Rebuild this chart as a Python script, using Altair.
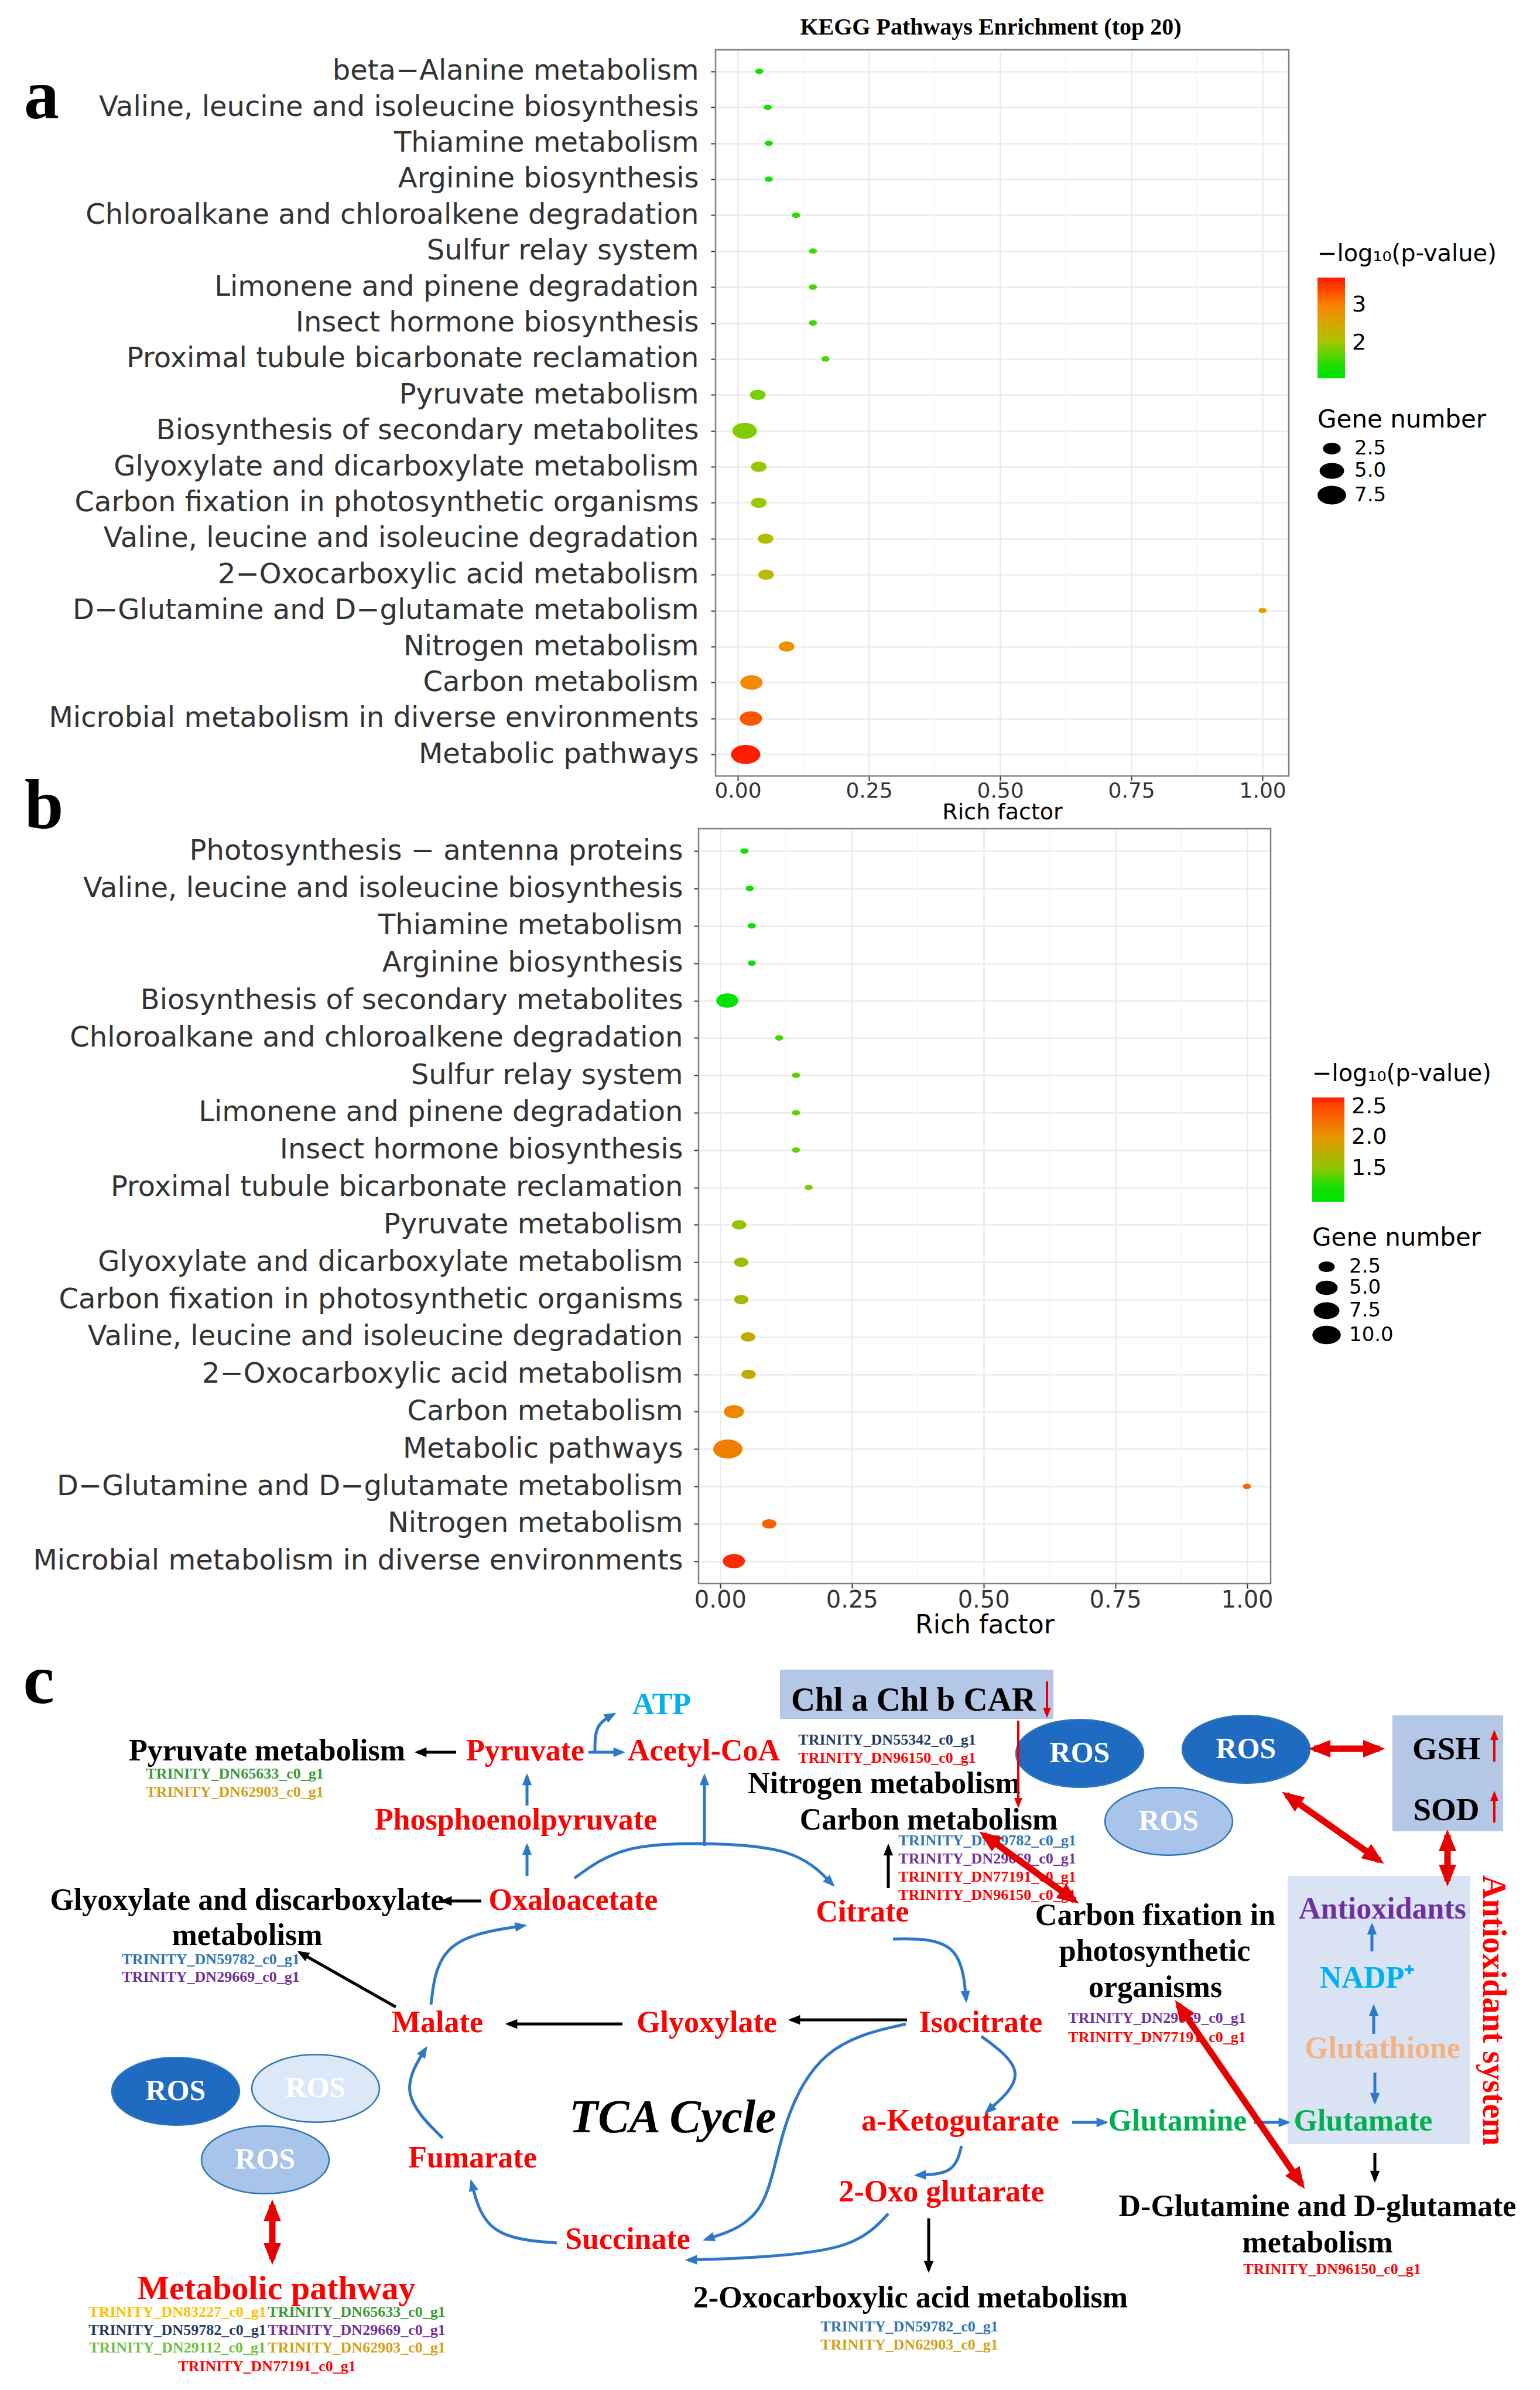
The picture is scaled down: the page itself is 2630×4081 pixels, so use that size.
import math
import pandas as pd
import altair as alt

# ======================= Panel a (KEGG enrichment, top 20) =======================
a_pathways = [
    "beta\u2212Alanine metabolism",
    "Valine, leucine and isoleucine biosynthesis",
    "Thiamine metabolism",
    "Arginine biosynthesis",
    "Chloroalkane and chloroalkene degradation",
    "Sulfur relay system",
    "Limonene and pinene degradation",
    "Insect hormone biosynthesis",
    "Proximal tubule bicarbonate reclamation",
    "Pyruvate metabolism",
    "Biosynthesis of secondary metabolites",
    "Glyoxylate and dicarboxylate metabolism",
    "Carbon fixation in photosynthetic organisms",
    "Valine, leucine and isoleucine degradation",
    "2\u2212Oxocarboxylic acid metabolism",
    "D\u2212Glutamine and D\u2212glutamate metabolism",
    "Nitrogen metabolism",
    "Carbon metabolism",
    "Microbial metabolism in diverse environments",
    "Metabolic pathways",
]
a_rich = [0.041, 0.057, 0.059, 0.059, 0.111, 0.143, 0.143, 0.143, 0.167, 0.038,
          0.013, 0.040, 0.040, 0.053, 0.054, 1.000, 0.093, 0.026, 0.025, 0.015]
a_genes = [1, 1, 1, 1, 1, 1, 1, 1, 1, 2, 5, 2, 2, 2, 2, 1, 2, 4, 4, 8]
a_logp = [1.30, 1.33, 1.33, 1.33, 1.50, 1.58, 1.58, 1.58, 1.66, 1.82,
          1.86, 1.95, 1.97, 2.15, 2.20, 2.55, 2.80, 2.90, 3.30, 3.70]

# ======================= Panel b =======================
b_pathways = [
    "Photosynthesis \u2212 antenna proteins",
    "Valine, leucine and isoleucine biosynthesis",
    "Thiamine metabolism",
    "Arginine biosynthesis",
    "Biosynthesis of secondary metabolites",
    "Chloroalkane and chloroalkene degradation",
    "Sulfur relay system",
    "Limonene and pinene degradation",
    "Insect hormone biosynthesis",
    "Proximal tubule bicarbonate reclamation",
    "Pyruvate metabolism",
    "Glyoxylate and dicarboxylate metabolism",
    "Carbon fixation in photosynthetic organisms",
    "Valine, leucine and isoleucine degradation",
    "2\u2212Oxocarboxylic acid metabolism",
    "Carbon metabolism",
    "Metabolic pathways",
    "D\u2212Glutamine and D\u2212glutamate metabolism",
    "Nitrogen metabolism",
    "Microbial metabolism in diverse environments",
]
b_rich = [0.046, 0.056, 0.060, 0.060, 0.0135, 0.112, 0.144, 0.144, 0.144, 0.168,
          0.036, 0.040, 0.040, 0.053, 0.054, 0.026, 0.0145, 1.000, 0.093, 0.026]
b_genes = [1, 1, 1, 1, 5, 1, 1, 1, 1, 1, 2, 2, 2, 2, 2, 4, 11, 1, 2, 5]
b_logp = [1.10, 1.12, 1.12, 1.12, 1.00, 1.30, 1.40, 1.40, 1.40, 1.47,
          1.55, 1.62, 1.63, 1.78, 1.80, 2.10, 2.15, 2.30, 2.35, 2.60]

x_major = [0.0, 0.25, 0.5, 0.75, 1.0]
x_minor = [0.125, 0.375, 0.625, 0.875]

a_color_domain = [1.08, 1.45, 2.0, 2.5, 3.0, 3.72]
a_color_range = ["#00E400", "#1EDF00", "#A2C600", "#D6A800", "#FA8200", "#FF1A00"]
b_color_domain = [0.96, 1.2, 1.5, 2.0, 2.5, 2.65]
b_color_range = ["#00E400", "#14E000", "#8CC800", "#E89600", "#FF4A00", "#FF1A00"]


def ellipse_path(e):
    k = 0.5523
    return (f"M-1,0 C-1,{-k*e:.4f} {-k:.4f},{-e:.4f} 0,{-e:.4f} "
            f"C{k:.4f},{-e:.4f} 1,{-k*e:.4f} 1,0 "
            f"C1,{k*e:.4f} {k:.4f},{e:.4f} 0,{e:.4f} "
            f"C{-k:.4f},{e:.4f} -1,{k*e:.4f} -1,0 Z")


DOT = ellipse_path(0.65)
ROS_SHAPE = ellipse_path(0.53)
ARROW = "M0,-0.5 L0.8,1.5 L-0.8,1.5 Z"
SANS = "DejaVu Sans"
SERIF = "Liberation Serif"


def dot_panel(names, rich, genes, logp, xdom, cdom, crange, cvals, cfmt,
              grad_len, grad_thick, sdom, svals, width, height, off, leg_x, leg_cy, leg_sy,
              ylab_size, ylab_pad, xlab_size, xlab_pad, xt_size, xt_y):
    df = pd.DataFrame({"pathway": names, "rich": rich, "genes": genes, "logp": logp})
    xscale = alt.Scale(domain=xdom, range=[off, off + width], nice=False, zero=False)
    xaxis = alt.Axis(values=x_major, format=".2f", title="Rich factor",
                     titleFont=SANS, titleFontSize=xt_size, titleFontWeight="normal",
                     titleColor="black", titleY=xt_y, titleBaseline="middle",
                     labelFont=SANS, labelFontSize=xlab_size, labelColor="#333333",
                     labelPadding=xlab_pad, labelBaseline="middle",
                     tickColor="#333333", tickSize=8, tickWidth=2, domain=False,
                     grid=True, gridColor="#EBEBEB", gridWidth=2.5)
    grid = alt.Chart(pd.DataFrame({"rich": x_minor})).mark_rule(
        color="#F4F4F4", strokeWidth=1.5).encode(x=alt.X("rich:Q", scale=xscale, axis=xaxis))
    dots = alt.Chart(df).mark_point(shape=DOT, filled=True, opacity=1, strokeWidth=0).encode(
        x=alt.X("rich:Q", scale=xscale, axis=xaxis),
        y=alt.Y("pathway:N", sort=names, scale=alt.Scale(padding=0.6),
                axis=alt.Axis(title=None, labelFont=SANS, labelFontSize=ylab_size,
                              labelColor="#333333", labelLimit=3000, labelPadding=ylab_pad,
                              tickColor="#333333", tickSize=8, tickWidth=2, domain=False,
                              offset=-off,
                              grid=True, gridColor="#EBEBEB", gridWidth=2.5)),
        color=alt.Color("logp:Q",
                        scale=alt.Scale(domain=cdom, range=crange, interpolate="rgb"),
                        legend=alt.Legend(title="\u2212log\u2081\u2080(p-value)", orient="none",
                                          legendX=leg_x, legendY=leg_cy, direction="vertical",
                                          gradientLength=grad_len, gradientThickness=grad_thick,
                                          gradientStrokeWidth=0, values=cvals, format=cfmt,
                                          labelFont=SANS, labelFontSize=38, labelColor="black",
                                          labelOffset=12, titleFont=SANS, titleFontSize=40,
                                          titleFontWeight="normal", titleColor="black",
                                          titlePadding=20, titleLimit=2000, padding=0)),
        size=alt.Size("genes:Q",
                      scale=alt.Scale(type="sqrt", domain=sdom, range=[196, 2500]),
                      legend=alt.Legend(title="Gene number", orient="none",
                                        legendX=leg_x, legendY=leg_sy, values=svals,
                                        format=".1f", symbolType=DOT, symbolFillColor="black",
                                        symbolStrokeColor="black", symbolStrokeWidth=0,
                                        symbolOpacity=1, labelFont=SANS, labelFontSize=34,
                                        labelColor="black", labelOffset=14, rowPadding=0,
                                        titleFont=SANS, titleFontSize=42,
                                        titleFontWeight="normal", titleColor="black",
                                        titlePadding=10, titleLimit=2000, padding=0)),
    )
    frame = alt.Chart(pd.DataFrame({"rich": [xdom[0]], "rich2": [xdom[1]]})).mark_rect(
        fillOpacity=0, stroke="#808080", strokeWidth=2.5).encode(
        x=alt.X("rich:Q", scale=xscale, axis=xaxis), x2=alt.X2("rich2:Q"))
    return alt.layer(grid, dots, frame).properties(
        width=width + off, height=height,
        view=alt.ViewBackground(strokeOpacity=0, strokeWidth=0))


chart_a = dot_panel(a_pathways, a_rich, a_genes, a_logp, [-0.0424, 1.050],
                    a_color_domain, a_color_range, [2, 3], "d", 172, 47,
                    [1, 8], [2.5, 5.0, 7.5], 979, 1240, 29, 1057, 329, 612,
                    48, 21, 36, 17, 38, 62)
chart_b = dot_panel(b_pathways, b_rich, b_genes, b_logp, [-0.041, 1.045],
                    b_color_domain, b_color_range, [1.5, 2.0, 2.5], ".1f", 178, 55,
                    [1, 11], [2.5, 5.0, 7.5, 10.0], 977, 1289, 0, 1048, 399, 679,
                    48, 19, 40, 20, 44, 71)

# ======================= Panel c (pathway diagram) =======================
K, RED, CYAN, PURPLE, PEACH, GREEN = "#000000", "#FF0000", "#00B0F0", "#7030A0", "#F4B183", "#00B050"
BLUE_T, NAVY, G1, GOLD, YELLOW, LGREEN = "#2E75B6", "#1F3864", "#3A9A3A", "#D4A017", "#FFC000", "#70C040"
BLUE = "#2E78C8"
WHITE = "#FFFFFF"

# label, X, Y, colour, font size
panel_texts = [
    ("a", 71, 166, K, 120), ("b", 75, 1378, K, 120), ("c", 66, 2872, K, 120),
    ("KEGG Pathways Enrichment (top 20)", 1692, 47, K, 40),
]
pathway_texts = [
    ("Pyruvate metabolism", 456, 2990), ("Glyoxylate and discarboxylate", 422, 3245),
    ("metabolism", 422, 3305), ("Nitrogen metabolism", 1510, 3046),
    ("Carbon metabolism", 1586, 3108), ("2-Oxocarboxylic acid metabolism", 1555, 3924),
    ("Carbon fixation in", 1973, 3271), ("photosynthetic", 1972, 3332),
    ("organisms", 1973, 3394), ("D-Glutamine and D-glutamate", 2250, 3768),
    ("metabolism", 2250, 3830),
]
metabolite_texts = [
    ("Pyruvate", 897, 2990, RED), ("Acetyl-CoA", 1202, 2990, RED),
    ("Phosphoenolpyruvate", 881, 3108, RED), ("Oxaloacetate", 979, 3245, RED),
    ("Malate", 747, 3454, RED), ("Glyoxylate", 1207, 3454, RED),
    ("Fumarate", 807, 3685, RED), ("Succinate", 1072, 3824, RED),
    ("Citrate", 1473, 3265, RED), ("Isocitrate", 1675, 3454, RED),
    ("a-Ketogutarate", 1640, 3622, RED), ("2-Oxo glutarate", 1608, 3743, RED),
    ("ATP", 1130, 2911, CYAN), ("NADP\u207A", 2335, 3378, CYAN),
    ("Antioxidants", 2361, 3260, PURPLE), ("Glutathione", 2361, 3498, PEACH),
    ("Glutamine", 2011, 3622, GREEN), ("Glutamate", 2328, 3622, GREEN),
]
big_texts = [
    ("Metabolic pathway", 472, 3909, RED, 58), ("Chl a Chl b CAR", 1560, 2904, K, 57),
    ("GSH", 2470, 2987, K, 55), ("SOD", 2470, 3091, K, 55),
]
gene_texts = [
    ("TRINITY_DN65633_c0_g1", 401, 3029, G1), ("TRINITY_DN62903_c0_g1", 401, 3060, GOLD),
    ("TRINITY_DN59782_c0_g1", 360, 3346, BLUE_T), ("TRINITY_DN29669_c0_g1", 360, 3376, PURPLE),
    ("TRINITY_DN83227_c0_g1", 303, 3948, YELLOW), ("TRINITY_DN65633_c0_g1", 609, 3948, G1),
    ("TRINITY_DN59782_c0_g1", 303, 3979, NAVY), ("TRINITY_DN29669_c0_g1", 609, 3979, PURPLE),
    ("TRINITY_DN29112_c0_g1", 303, 4009, LGREEN), ("TRINITY_DN62903_c0_g1", 609, 4009, GOLD),
    ("TRINITY_DN77191_c0_g1", 456, 4041, RED),
    ("TRINITY_DN55342_c0_g1", 1515, 2971, NAVY), ("TRINITY_DN96150_c0_g1", 1515, 3002, RED),
    ("TRINITY_DN59782_c0_g1", 1686, 3143, BLUE_T), ("TRINITY_DN29669_c0_g1", 1686, 3174, PURPLE),
    ("TRINITY_DN77191_c0_g1", 1686, 3205, RED), ("TRINITY_DN96150_c0_g1", 1686, 3236, RED),
    ("TRINITY_DN29669_c0_g1", 1976, 3446, PURPLE), ("TRINITY_DN77191_c0_g1", 1976, 3479, RED),
    ("TRINITY_DN96150_c0_g1", 2275, 3875, RED),
    ("TRINITY_DN59782_c0_g1", 1553, 3973, BLUE_T), ("TRINITY_DN62903_c0_g1", 1553, 4004, GOLD),
]
ros_x = [300, 539, 453, 1844, 2128, 1996]
ros_y = [3571, 3566, 3688, 2994, 2987, 3110]
ros_fill = ["#1F6BC2", "#DCE7F7", "#A9C4EA", "#1F6BC2", "#1F6BC2", "#A9C4EA"]
box_x1 = [1332, 2378, 2199]
box_y1 = [2851, 2929, 3203]
box_x2 = [1799, 2567, 2511]
box_y2 = [2935, 3127, 3661]
box_fill = ["#B4C7E7", "#B4C7E7", "#DAE3F3"]

arrow_pts = [
    [(779, 2992), (713, 2992)],
    [(1005, 2992), (1063, 2992)],
    [(1016, 2990), (1016, 2945), (1048, 2927)],
    [(900, 3083), (900, 3033)],
    [(900, 3203), (900, 3152)],
    [(1203, 3152), (1203, 3033)],
    [(981, 3207), (1060, 3150), (1203, 3146), (1360, 3155), (1422, 3218)],
    [(822, 3246), (756, 3246)],
    [(676, 3427), (512, 3334)],
    [(736, 3423), (750, 3310), (895, 3288)],
    [(1063, 3456), (868, 3456)],
    [(756, 3651), (680, 3575), (727, 3498)],
    [(951, 3830), (830, 3820), (805, 3726)],
    [(465, 3765), (465, 3858)],
    [(1525, 3311), (1640, 3310), (1650, 3415)],
    [(1517, 3224), (1517, 3153)],
    [(1549, 3449), (1351, 3449)],
    [(1676, 3477), (1760, 3540), (1685, 3606)],
    [(1831, 3624), (1888, 3624)],
    [(2141, 3624), (2199, 3624)],
    [(1642, 3664), (1630, 3712), (1566, 3714)],
    [(1586, 3788), (1586, 3876)],
    [(1517, 3780), (1460, 3840), (1300, 3855), (1175, 3859)],
    [(1547, 3456), (1400, 3490), (1330, 3640), (1310, 3790), (1205, 3824)],
    [(1739, 2938), (1739, 3083)],
    [(2244, 2986), (2356, 2986)],
    [(2197, 3065), (2356, 3177)],
    [(2472, 3133), (2472, 3212)],
    [(1680, 3133), (1835, 3245)],
    [(2012, 3423), (2223, 3730)],
    [(2343, 3332), (2343, 3288)],
    [(2346, 3473), (2346, 3427)],
    [(2348, 3539), (2348, 3589)],
    [(2348, 3676), (2348, 3722)],
    [(1788, 2871), (1788, 2929)],
    [(2552, 3008), (2552, 2958)],
    [(2552, 3112), (2552, 3062)],
]
arrow_kind = ["k", "b", "b", "b", "b", "b", "b", "k", "k", "b", "k", "b", "b", "R", "b", "k",
              "k", "b", "b", "b", "b", "k", "b", "b", "r", "R", "R", "R", "R", "R", "b", "b",
              "b", "k", "r", "r", "r"]
arrow_style = {"k": (K, 5, 420, "end"), "b": (BLUE, 5, 420, "end"),
               "R": ("#E60000", 11, 1400, "both"), "r": ("#E60000", 4, 300, "end")}

# ---- build tables
line_rows, head_rows = [], []
for i, (pts, kind) in enumerate(zip(arrow_pts, arrow_kind)):
    col, w, hs, heads = arrow_style[kind]
    for k, (x, y) in enumerate(pts):
        line_rows.append({"id": i, "k": k, "X": x, "Y": y, "col": col, "w": w})
    ends = [(pts[-1], pts[-2])]
    if heads == "both":
        ends.append((pts[0], pts[1]))
    for (tip, prev) in ends:
        dx, dy = tip[0] - prev[0], tip[1] - prev[1]
        ang = (math.degrees(math.atan2(dx, -dy)) + 360.0) % 360.0
        head_rows.append({"X": tip[0], "Y": tip[1], "ang": ang, "col": col, "s": hs})
lines_df = pd.DataFrame(line_rows)
heads_df = pd.DataFrame(head_rows)

text_rows = []
for t, x, y, c, s in panel_texts:
    text_rows.append({"t": t, "X": x, "Y": y, "col": c, "fs": s})
for t, x, y in pathway_texts:
    text_rows.append({"t": t, "X": x, "Y": y, "col": K, "fs": 52})
for t, x, y, c in metabolite_texts:
    text_rows.append({"t": t, "X": x, "Y": y, "col": c, "fs": 52})
for t, x, y, c, s in big_texts:
    text_rows.append({"t": t, "X": x, "Y": y, "col": c, "fs": s})
for t, x, y, c in gene_texts:
    text_rows.append({"t": t, "X": x, "Y": y, "col": c, "fs": 26})
for x, y in zip(ros_x, ros_y):
    text_rows.append({"t": "ROS", "X": x, "Y": y, "col": WHITE, "fs": 50})
texts_df = pd.DataFrame(text_rows)

ros_df = pd.DataFrame({"X": ros_x, "Y": ros_y, "fill": ros_fill,
                       "s": [218 * 218] * len(ros_x)})
box_df = pd.DataFrame({"X": box_x1, "Y": box_y1, "X2": box_x2, "Y2": box_y2, "fill": box_fill})

XS = alt.Scale(domain=[1193, 2622], nice=False, zero=False)
YS = alt.Scale(domain=[2794, 4073], nice=False, zero=False, reverse=True)


def cx(f="X"):
    return alt.X(f"{f}:Q", scale=XS, axis=None)


def cy(f="Y"):
    return alt.Y(f"{f}:Q", scale=YS, axis=None)


boxes = alt.Chart(box_df).mark_rect().encode(
    x=cx(), x2=alt.X2("X2:Q"), y=cy(), y2=alt.Y2("Y2:Q"),
    color=alt.Color("fill:N", scale=None))
ros = alt.Chart(ros_df).mark_point(shape=ROS_SHAPE, filled=True, opacity=1, strokeWidth=2.5,
                                   stroke="#2E75B6").encode(
    x=cx(), y=cy(), size=alt.Size("s:Q", scale=None), fill=alt.Fill("fill:N", scale=None))
texts = alt.Chart(texts_df).mark_text(font=SERIF, fontWeight="bold", baseline="middle",
                                      align="center").encode(
    x=cx(), y=cy(), text="t:N", color=alt.Color("col:N", scale=None),
    size=alt.Size("fs:Q", scale=None))
tca = alt.Chart(pd.DataFrame({"t": ["TCA Cycle"], "X": [1149], "Y": [3617]})).mark_text(
    font=SERIF, fontWeight="bold", fontStyle="italic", fontSize=80, color=K,
    baseline="middle", align="center").encode(x=cx(), y=cy(), text="t:N")
vert = alt.Chart(pd.DataFrame({"t": ["Antioxidant system"], "X": [2550], "Y": [3433]})).mark_text(
    font=SERIF, fontWeight="bold", fontSize=56, color=RED, angle=90,
    baseline="middle", align="center").encode(x=cx(), y=cy(), text="t:N")
lines = alt.Chart(lines_df).mark_line(interpolate="basis", strokeCap="butt").encode(
    x=cx(), y=cy(), detail="id:N", order="k:Q",
    color=alt.Color("col:N", scale=None), strokeWidth=alt.StrokeWidth("w:Q", scale=None))
heads = alt.Chart(heads_df).mark_point(shape=ARROW, filled=True, opacity=1, strokeWidth=0).encode(
    x=cx(), y=cy(), angle=alt.Angle("ang:Q", scale=None), size=alt.Size("s:Q", scale=None),
    color=alt.Color("col:N", scale=None))
anchor = alt.Chart(pd.DataFrame({"X": [8.5], "Y": [8.5]})).mark_point(
    shape="square", size=1, filled=True, opacity=0).encode(x=cx(), y=cy())

chart_c = alt.layer(boxes, ros, texts, tca, vert, lines, heads, anchor).properties(
    width=1429, height=1279, view=alt.ViewBackground(strokeOpacity=0, strokeWidth=0))

chart = alt.vconcat(chart_a, chart_b, chart_c, spacing=90, bounds="flush").resolve_scale(
    color="independent", size="independent").properties(padding=0)

chart.save("out.html", embed_options={"renderer": "svg", "actions": False})
